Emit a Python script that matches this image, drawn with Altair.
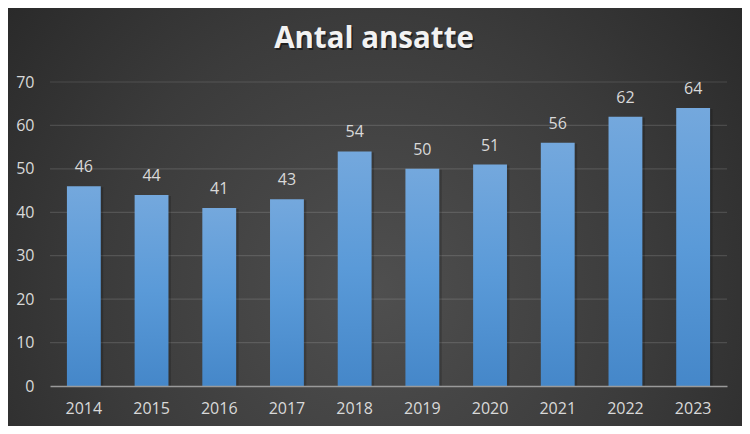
import altair as alt
import pandas as pd

title_text = ["Antal ansatte"]
years = ["2014", "2015", "2016", "2017", "2018", "2019", "2020", "2021", "2022", "2023"]
values = [46, 44, 41, 43, 54, 50, 51, 56, 62, 64]
y_ticks = [0, 10, 20, 30, 40, 50, 60, 70]

df = pd.DataFrame({"year": years, "value": values})
grid_df = pd.DataFrame({"value": y_ticks[1:]})
bg_df = pd.DataFrame({"a": [0]})
title_df = pd.DataFrame({"t": title_text})

LABEL = "#d9d9d9"
FONT = "Open Sans"

x_enc = alt.X(
    "year:O",
    sort=years,
    scale=alt.Scale(paddingInner=0.5, paddingOuter=0.25),
    axis=alt.Axis(
        title=None, labelAngle=0, labelColor=LABEL, labelFont=FONT, labelFontSize=16,
        ticks=False, domainColor="#9a9a9a", domainWidth=1.5, labelPadding=14, zindex=1,
    ),
)
y_axis = alt.Axis(
    values=y_ticks, title=None, grid=False, domain=False, ticks=False,
    labelColor=LABEL, labelFont=FONT, labelFontSize=16, labelPadding=16, zindex=1,
)
y_enc = alt.Y("value:Q", scale=alt.Scale(domain=[0, 70], nice=False), axis=y_axis)

background = alt.Chart(bg_df).mark_rect(
    fill=alt.RadialGradient(
        gradient="radial",
        stops=[
            alt.GradientStop(color="#4f4f4f", offset=0),
            alt.GradientStop(color="#3b3b3b", offset=0.5),
            alt.GradientStop(color="#222222", offset=1),
        ],
        x1=0.5, y1=0.6, r1=0, x2=0.5, y2=0.6, r2=0.75,
    )
).encode(
    x=alt.value(-42), x2=alt.value(692), y=alt.value(-74), y2=alt.value(344)
)

grid = alt.Chart(grid_df).mark_rule(
    stroke="#ffffff", strokeOpacity=0.13, strokeWidth=1.2
).encode(y=y_enc)

shadow = alt.Chart(df).mark_bar(
    fill="#000000", opacity=0.18, xOffset=2.5, yOffset=1
).encode(x=x_enc, y=y_enc)

bars = alt.Chart(df).mark_bar(
    fill=alt.LinearGradient(
        gradient="linear",
        stops=[
            alt.GradientStop(color="#74a8dd", offset=0),
            alt.GradientStop(color="#5a9ad8", offset=0.5),
            alt.GradientStop(color="#4587c9", offset=1),
        ],
        x1=0, x2=0, y1=0, y2=1,
    )
).encode(x=x_enc, y=y_enc)

labels = alt.Chart(df).mark_text(
    dy=-14, baseline="alphabetic", font=FONT, fontSize=16, color=LABEL
).encode(x=x_enc, y=y_enc, text="value:Q")

title_shadow = alt.Chart(title_df).mark_text(
    font=FONT, fontSize=29.5, fontWeight="bold", color="#000000", opacity=0.45,
    baseline="alphabetic", align="center",
).encode(x=alt.value(325.5), y=alt.value(-32.5), text="t:N")

title = alt.Chart(title_df).mark_text(
    font=FONT, fontSize=29.5, fontWeight="bold", color="#f2f2f2",
    baseline="alphabetic", align="center",
).encode(x=alt.value(324), y=alt.value(-34), text="t:N")

chart = alt.layer(background, grid, shadow, bars, labels, title_shadow, title).properties(
    width=677,
    height=304,
    autosize=alt.AutoSizeParams(type="none"),
    padding={"left": 42, "top": 74, "right": 15, "bottom": 40},
).configure_view(strokeWidth=0).configure(background="#2a2a2a")

chart.save("out.html", embed_options={"renderer": "svg", "actions": False})
